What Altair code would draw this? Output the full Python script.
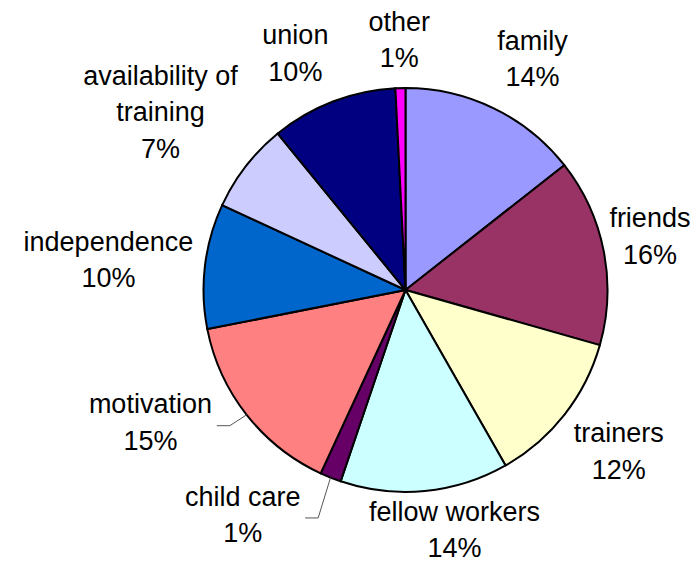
import math
import altair as alt
import pandas as pd

# ---- data ----
categories = ["family", "friends", "trainers", "fellow workers", "child care",
              "motivation", "independence", "availability of training", "union", "other"]
values = [14.4, 15.0, 12.35, 13.45, 1.7, 15.0, 10.0, 7.2, 10.1, 0.8]
pct_labels = ["14%", "16%", "12%", "14%", "1%", "15%", "10%", "7%", "10%", "1%"]
name_lines = [["family"], ["friends"], ["trainers"], ["fellow workers"], ["child care"],
              ["motivation"], ["independence"], ["availability of", "training"], ["union"], ["other"]]
colors = ["#9999FF", "#993366", "#FFFFCC", "#CCFFFF", "#660066",
          "#FF8080", "#0066CC", "#CCCCFF", "#000080", "#FF00FF"]

# ---- layout / style ----
W, H = 684, 555
CX, CY = 397.5, 282.0   # pie centre inside the view
R = 202
FS = 27
LH = 36.5
GAP = 10
# labels that were moved away from their default spot (degrees / pixels)
angle_adjust = {"family": 3, "union": -4, "fellow workers": -6, "child care": 14, "motivation": 10.5,
                "availability of training": -2, "independence": -1.3, "friends": -1, "trainers": -0.8}
radial_adjust = {"availability of training": -9, "independence": -5.5, "friends": -12,
                 "trainers": -5.5, "fellow workers": -8, "child care": 2}
leader_for = {"child care", "motivation"}

CW = {'a': 556, 'b': 556, 'c': 500, 'd': 556, 'e': 556, 'f': 278, 'g': 556, 'h': 556, 'i': 222,
      'j': 222, 'k': 500, 'l': 222, 'm': 833, 'n': 556, 'o': 556, 'p': 556, 'q': 556, 'r': 333,
      's': 500, 't': 278, 'u': 556, 'v': 500, 'w': 722, 'x': 500, 'y': 500, 'z': 500, ' ': 278,
      '%': 889}


def text_w(s):
    return sum(CW.get(ch, 556) for ch in s) / 1000 * FS * 1.03


total = sum(values)
pie_df = pd.DataFrame({"cat": categories, "value": values, "idx": list(range(len(values)))})

rows, lead = [], []
cum = 0.0
for i, cat in enumerate(categories):
    mid = (cum + values[i] / 2) / total * 360
    cum += values[i]
    lines = name_lines[i] + [pct_labels[i]]
    hw = max(text_w(s) for s in lines) / 2 + 3
    hh = len(lines) * LH / 2
    th = math.radians(mid + angle_adjust.get(cat, 0))
    ux, uy = math.sin(th), -math.cos(th)
    d = R
    while True:
        cx, cy = CX + d * ux, CY + d * uy
        nx = min(max(CX, cx - hw), cx + hw)
        ny = min(max(CY, cy - hh), cy + hh)
        if math.hypot(nx - CX, ny - CY) >= R + GAP:
            break
        d += 0.5
    d += radial_adjust.get(cat, 0)
    cx, cy = CX + d * ux, CY + d * uy
    # the first line sits at the anchor, so lift it by half the block
    rows.append({"cat": cat, "label": "\n".join(lines), "lx": cx,
                 "ly": cy - (len(lines) - 1) * LH / 2})
    if cat in leader_for:
        tm = math.radians(mid)
        sx, sy = CX + R * math.sin(tm), CY - R * math.cos(tm)
        right = cx + (hw - 3)
        lead += [
            {"cat": cat, "k": 0, "px": sx, "py": sy},
            {"cat": cat, "k": 1, "px": right + 16, "py": cy + 2},
            {"cat": cat, "k": 2, "px": right + 3, "py": cy + 2},
        ]

lab_df = pd.DataFrame(rows)
lead_df = pd.DataFrame(lead)

pie = alt.Chart(pie_df).mark_arc(radius=R, stroke="black", strokeWidth=2).encode(
    theta=alt.Theta("value:Q", stack=True),
    color=alt.Color("cat:N", scale=alt.Scale(domain=categories, range=colors), legend=None),
    order=alt.Order("idx:Q"),
    x=alt.value(CX),
    y=alt.value(CY),
)

leaders = alt.Chart(lead_df).mark_line(color="#555555", strokeWidth=1).encode(
    x=alt.X("px:Q", scale=None, axis=None),
    y=alt.Y("py:Q", scale=None, axis=None),
    detail="cat:N",
    order="k:Q",
)

labels = alt.Chart(lab_df).mark_text(
    font="Liberation Sans", fontSize=FS, lineBreak="\n", lineHeight=LH,
    align="center", baseline="middle", color="black",
).encode(
    x=alt.X("lx:Q", scale=None, axis=None),
    y=alt.Y("ly:Q", scale=None, axis=None),
    text="label:N",
)

chart = alt.layer(pie, leaders, labels).properties(
    width=W, height=H, autosize=alt.AutoSizeParams(type="none"), padding=0,
    background="white",
).configure_view(stroke=None)

chart.save("out.html", embed_options={"renderer": "svg", "actions": False})
